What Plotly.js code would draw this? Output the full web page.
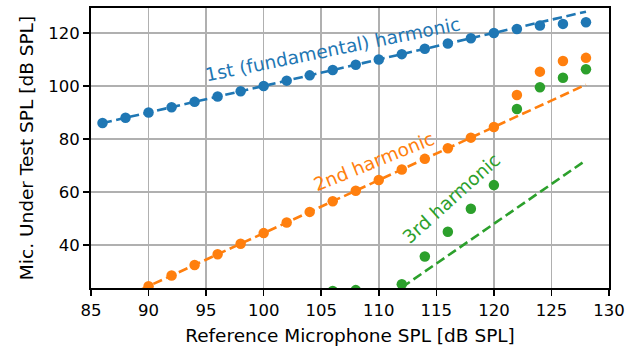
<!DOCTYPE html>
<html>
<head>
<meta charset="utf-8">
<script src="https://cdn.plot.ly/plotly-3.0.1.min.js"></script>
<style>
  html, body { margin: 0; padding: 0; background: #fff; }
  #chart { width: 635px; height: 349px; }
</style>
</head>
<body>
<div id="chart"></div>
<script>
// Reference microphone levels (dB SPL) at which each harmonic was measured
const refFund = [86, 88, 90, 92, 94, 96, 98, 100, 102, 104, 106, 108, 110, 112, 114, 116, 118, 120, 122, 124, 126, 128];
const micFund = [86, 88, 90, 92, 94, 96, 98, 100, 102, 104, 106, 108, 110, 112, 114, 116, 118, 120, 121.5, 122.8, 123.4, 124];

const refSecond = [90, 92, 94, 96, 98, 100, 102, 104, 106, 108, 110, 112, 114, 116, 118, 120, 122, 124, 126, 128];
const micSecond = [24.5, 28.5, 32.5, 36.5, 40.5, 44.5, 48.5, 52.5, 56.5, 60.5, 64.5, 68.5, 72.5, 76.5, 80.5, 84.5, 96.6, 105.4, 109.4, 110.6];

const refThird = [106, 108, 112, 114, 116, 118, 120, 122, 124, 126, 128];
const micThird = [22.7, 23.0, 25.2, 35.7, 45.0, 53.7, 62.6, 91.3, 99.5, 103.1, 106.3];

// Ideal slopes: 1 dB/dB, 2 dB/dB and 3 dB/dB
const fitX = [86, 128];
const fitFund = [86, 128];
const fitSecond = [16.5, 100.5];
const fitThird = [-54, 72];

const xTicks = [85, 90, 95, 100, 105, 110, 115, 120, 125, 130];
const yTicks = [40, 60, 80, 100, 120];

const C1 = '#1f77b4', C2 = '#ff7f0e', C3 = '#2ca02c';
const FONT = 'DejaVu Sans, sans-serif';
const dash = '9.5px,4.5px';

const traces = [
  {x: refFund, y: micFund, mode: 'markers', marker: {color: C1, size: 10.5}, cliponaxis: true},
  {x: fitX, y: fitFund, mode: 'lines', line: {color: C1, width: 2.6, dash: dash}},
  {x: refSecond, y: micSecond, mode: 'markers', marker: {color: C2, size: 10.5}, cliponaxis: true},
  {x: fitX, y: fitSecond, mode: 'lines', line: {color: C2, width: 2.6, dash: dash}},
  {x: refThird, y: micThird, mode: 'markers', marker: {color: C3, size: 10.5}, cliponaxis: true},
  {x: fitX, y: fitThird, mode: 'lines', line: {color: C3, width: 2.6, dash: dash}}
];

const axisCommon = {
  showgrid: true, gridcolor: '#b0b0b0', gridwidth: 1.5,
  showline: true, linecolor: '#000', linewidth: 2, mirror: true,
  ticks: 'outside', ticklen: 6, tickwidth: 1.5, tickcolor: '#000',
  zeroline: false,
  tickfont: {family: FONT, size: 16.5, color: '#000'}
};

const layout = {
  width: 635, height: 349,
  margin: {l: 91, r: 26, t: 8, b: 61, pad: 0},
  paper_bgcolor: '#fff', plot_bgcolor: '#fff',
  showlegend: false,
  font: {family: FONT, color: '#000'},
  xaxis: Object.assign({}, axisCommon, {
    range: [85, 130], tickvals: xTicks,
    title: {text: 'Reference Microphone SPL [dB SPL]', font: {family: FONT, size: 18.5, color: '#000'}, standoff: 10}
  }),
  yaxis: Object.assign({}, axisCommon, {
    range: [23.8, 129.4], tickvals: yTicks,
    title: {text: 'Mic. Under Test SPL [dB SPL]', font: {family: FONT, size: 18.5, color: '#000'}, standoff: 10}
  }),
  annotations: [
    {x: 105.95, y: 113.7, text: '1st (fundamental) harmonic', showarrow: false, textangle: -11.5,
     xanchor: 'center', yanchor: 'middle', font: {family: FONT, size: 18.5, color: C1}},
    {x: 109.6, y: 71.5, text: '2nd harmonic', showarrow: false, textangle: -22,
     xanchor: 'center', yanchor: 'middle', font: {family: FONT, size: 18.5, color: C2}},
    {x: 116.3, y: 57.4, text: '3rd harmonic', showarrow: false, textangle: -42,
     xanchor: 'center', yanchor: 'middle', font: {family: FONT, size: 18.5, color: C3}}
  ]
};

Plotly.newPlot('chart', traces, layout, {staticPlot: true, displayModeBar: false});
</script>
</body>
</html>
